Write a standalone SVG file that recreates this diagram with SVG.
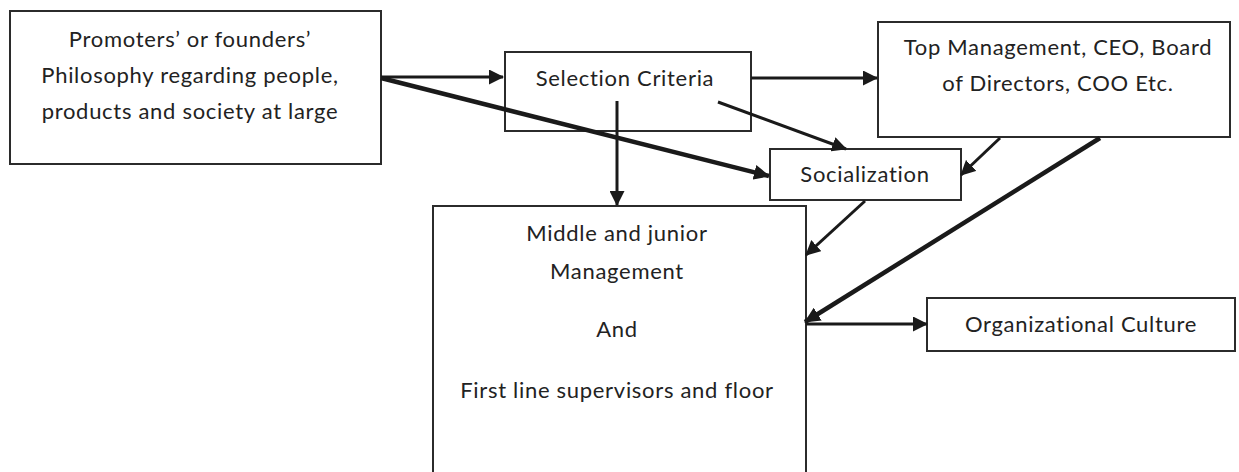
<svg xmlns="http://www.w3.org/2000/svg" width="1239" height="472" viewBox="0 0 1239 472">
<defs>
<style>
.box{fill:#fff;stroke:#2b2b2b;stroke-width:2}
.t{font-family:Lato,"Open Sans",sans-serif;font-size:22px;letter-spacing:0.7px;fill:#222;text-anchor:middle}
.c{stroke:#1a1a1a;stroke-width:3;fill:none;marker-end:url(#ah)}
.ct{stroke:#1a1a1a;stroke-width:4.5;fill:none;marker-end:url(#ah2)}
</style>
<marker id="ah" markerWidth="15" markerHeight="15" viewBox="0 0 15 15" refX="14" refY="7.5" orient="auto" markerUnits="userSpaceOnUse">
<path d="M0,0 L15,7.5 L0,15 z" fill="#1a1a1a"/>
</marker>
<marker id="ah2" markerWidth="16" markerHeight="15" viewBox="0 0 16 15" refX="15" refY="7.5" orient="auto" markerUnits="userSpaceOnUse">
<path d="M0,0 L16,7.5 L0,15 z" fill="#1a1a1a"/>
</marker>
</defs>
<rect width="1239" height="472" fill="#fff"/>
<g id="promoters">
<rect class="box" x="10" y="11" width="371" height="153"/>
<text class="t" x="190" y="47">Promoters’ or founders’</text>
<text class="t" x="190" y="83">Philosophy regarding people,</text>
<text class="t" x="190" y="119">products and society at large</text>
</g>
<g id="selection">
<rect class="box" x="505" y="52" width="246" height="79"/>
<text class="t" x="625" y="86">Selection Criteria</text>
</g>
<g id="top">
<rect class="box" x="878" y="22" width="352" height="115"/>
<text class="t" x="1058" y="55">Top Management, CEO, Board</text>
<text class="t" x="1058" y="91">of Directors, COO Etc.</text>
</g>
<g id="socialization">
<rect class="box" x="770" y="149" width="191" height="51"/>
<text class="t" x="865" y="182">Socialization</text>
</g>
<g id="middle">
<rect class="box" x="433" y="206" width="373" height="275"/>
<text class="t" x="617" y="241">Middle and junior</text>
<text class="t" x="617" y="279">Management</text>
<text class="t" x="617" y="337">And</text>
<text class="t" x="617" y="398">First line supervisors and floor</text>
</g>
<g id="culture">
<rect class="box" x="927" y="298" width="308" height="53"/>
<text class="t" x="1081" y="332">Organizational Culture</text>
</g>
<g id="connectors">
<line class="c" x1="381" y1="77" x2="503" y2="77"/>
<line class="ct" x1="381" y1="78" x2="769" y2="176"/>
<line class="c" x1="751" y1="78" x2="877" y2="78"/>
<line class="c" x1="617" y1="101" x2="617" y2="205"/>
<line class="c" x1="718" y1="102" x2="846" y2="149"/>
<line class="c" x1="1000" y1="138" x2="961" y2="175"/>
<line class="c" x1="865" y1="201" x2="806" y2="255"/>
<line class="ct" x1="1100" y1="138" x2="805" y2="322"/>
<line class="c" x1="806" y1="324" x2="927" y2="324"/>
</g>
</svg>
